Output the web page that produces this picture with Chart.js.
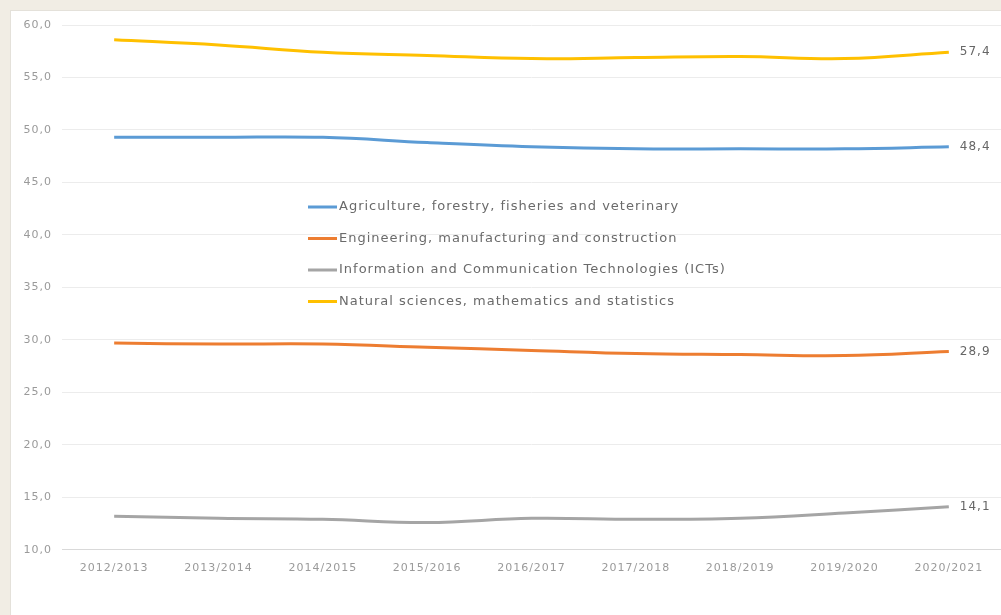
<!DOCTYPE html>
<html>
<head>
<meta charset="utf-8">
<script src="https://cdn.jsdelivr.net/npm/chart.js@4/dist/chart.umd.min.js"></script>
<style>
  html, body { margin: 0; padding: 0; background: #f1ede4; width: 1001px; height: 615px; overflow: hidden; }
  #wrap { position: absolute; left: 10px; top: 10px; width: 991px; height: 605px; background: #ffffff; border-left: 1px solid #e4e1da; border-top: 1px solid #e4e1da; box-sizing: border-box; }
  canvas { display: block; }
</style>
</head>
<body>
<div id="wrap"><canvas id="c" width="990" height="604"></canvas></div>
<script>
const categories = ["2012/2013","2013/2014","2014/2015","2015/2016","2016/2017","2017/2018","2018/2019","2019/2020","2020/2021"];
const seriesNames = [
  "Agriculture, forestry, fisheries and veterinary",
  "Engineering, manufacturing and construction",
  "Information and Communication Technologies (ICTs)",
  "Natural sciences, mathematics and statistics"
];
const agriculture = [49.3, 49.3, 49.3, 48.8, 48.4, 48.2, 48.2, 48.2, 48.4];
const engineering = [29.7, 29.6, 29.6, 29.3, 29.0, 28.7, 28.6, 28.5, 28.9];
const ict         = [13.2, 13.0, 12.9, 12.6, 13.0, 12.9, 13.0, 13.5, 14.1];
const natural     = [58.6, 58.1, 57.4, 57.1, 56.8, 56.9, 57.0, 56.8, 57.4];
const yTicks = [10, 15, 20, 25, 30, 35, 40, 45, 50, 55, 60];
const colors = ["#5b9bd5", "#ed7d31", "#a5a5a5", "#ffc000"];

const FONT = '"DejaVu Sans", sans-serif';
const fmt = v => v.toFixed(1).replace('.', ',');

const spacing = {
  id: 'spacing',
  beforeUpdate(chart) { chart.ctx.letterSpacing = '1px'; },
  beforeLayout(chart) { chart.ctx.letterSpacing = '1px'; },
  beforeDraw(chart) { chart.ctx.letterSpacing = '1px'; }
};

const endLabels = {
  id: 'endLabels',
  afterDatasetsDraw(chart) {
    const ctx = chart.ctx;
    ctx.save();
    ctx.letterSpacing = '1px';
    ctx.font = '12px ' + FONT;
    ctx.fillStyle = '#666666';
    ctx.textBaseline = 'middle';
    ctx.textAlign = 'left';
    chart.data.datasets.forEach((ds, i) => {
      const meta = chart.getDatasetMeta(i);
      const last = meta.data[meta.data.length - 1];
      ctx.fillText(fmt(ds.data[ds.data.length - 1]), last.x + 11, last.y);
    });
    ctx.restore();
  }
};

const innerLegend = {
  id: 'innerLegend',
  afterDraw(chart) {
    const ctx = chart.ctx;
    const x0 = 297, y0 = 196, gap = 31.5;
    ctx.save();
    ctx.letterSpacing = '1px';
    ctx.font = '13px ' + FONT;
    ctx.textBaseline = 'middle';
    ctx.textAlign = 'left';
    chart.data.datasets.forEach((ds, i) => {
      const y = y0 + i * gap;
      ctx.strokeStyle = ds.borderColor;
      ctx.lineWidth = 3;
      ctx.beginPath();
      ctx.moveTo(x0, y);
      ctx.lineTo(x0 + 29, y);
      ctx.stroke();
      ctx.fillStyle = '#6a6a6a';
      ctx.fillText(ds.label, x0 + 31, y);
    });
    ctx.restore();
  }
};

const datasets = [agriculture, engineering, ict, natural].map((d, i) => ({
  label: seriesNames[i],
  data: d,
  borderColor: colors[i],
  backgroundColor: colors[i],
  borderWidth: 3,
  pointRadius: 0,
  tension: 0.4,
  fill: false
}));

new Chart(document.getElementById('c'), {
  type: 'line',
  data: { labels: categories, datasets },
  options: {
    responsive: false,
    animation: false,
    layout: { padding: { top: 14, bottom: 28, left: 0, right: 0 } },
    plugins: { legend: { display: false }, tooltip: { enabled: false } },
    scales: {
      x: {
        offset: true,
        grid: { display: false, drawTicks: false },
        border: { display: true, color: '#d9d9d9', width: 1 },
        ticks: { color: '#9a9a9a', font: { size: 11, family: FONT }, padding: 12, maxRotation: 0, autoSkip: false }
      },
      y: {
        min: 10, max: 60,
        afterBuildTicks: s => { s.ticks = yTicks.map(v => ({ value: v })); },
        afterFit: s => { s.width = 51; s.paddingTop = 0; s.paddingBottom = 0; },
        grid: { color: '#ececec', drawTicks: false },
        border: { display: false },
        ticks: { color: '#9a9a9a', font: { size: 11, family: FONT }, padding: 10, callback: v => fmt(v) }
      }
    }
  },
  plugins: [spacing, endLabels, innerLegend]
});
</script>
</body>
</html>
